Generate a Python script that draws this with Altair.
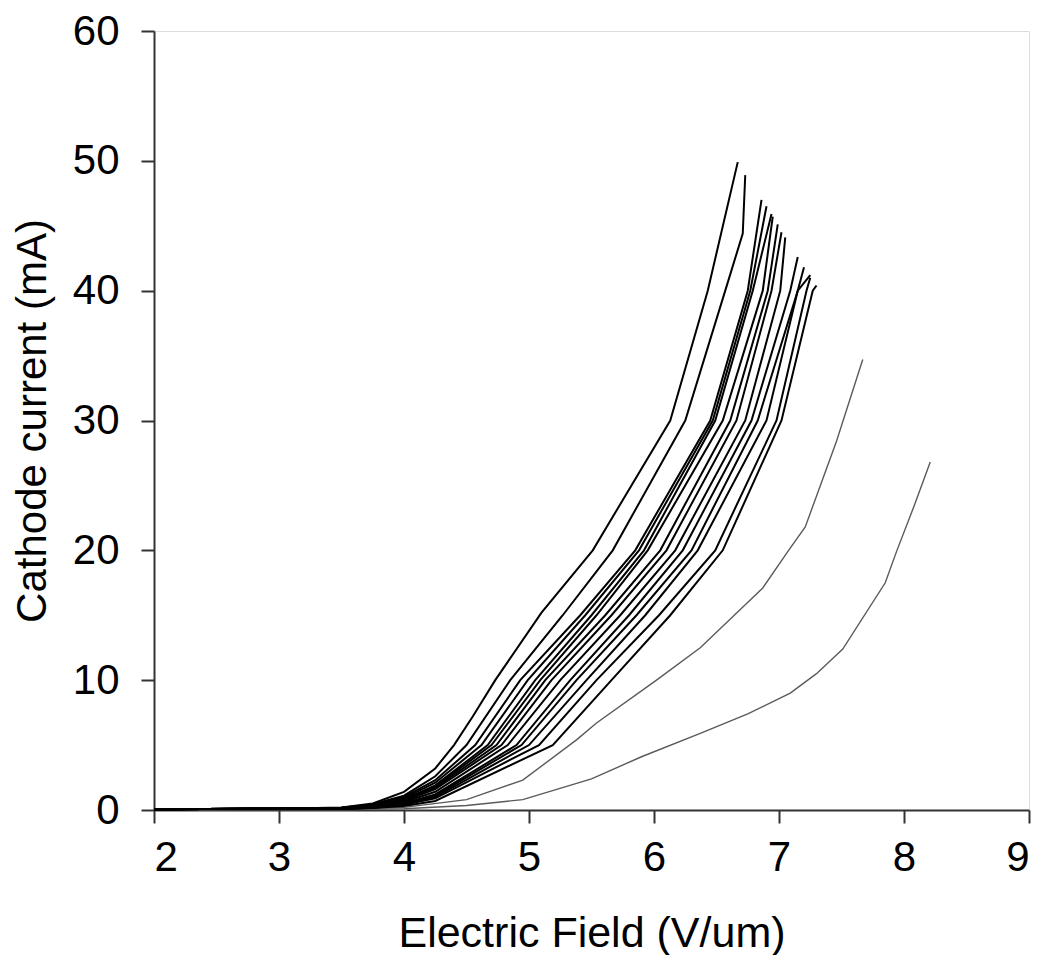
import altair as alt
import pandas as pd

# Black curves: (x, y) points
c01_x = [2.0, 3.0, 3.5, 3.75, 4.0, 4.25, 4.40, 4.55, 4.73, 5.10, 5.51, 6.13, 6.43, 6.67]
c01_y = [0.05, 0.1, 0.2, 0.5, 1.4, 3.2, 5.0, 7.2, 10.0, 15.2, 20.0, 30.0, 40.0, 49.9]
c02_x = [2.0, 3.0, 3.5, 3.75, 4.0, 4.25, 4.50, 4.85, 5.27, 5.67, 6.25, 6.57, 6.71, 6.73]
c02_y = [0.05, 0.1, 0.18, 0.45, 1.1, 2.6, 5.0, 10.0, 15.0, 20.0, 30.0, 40.0, 44.4, 48.9]
c03_x = [2.0, 3.0, 3.5, 3.75, 4.0, 4.25, 4.57, 4.93, 5.41, 5.85, 6.45, 6.75, 6.86]
c03_y = [0.05, 0.1, 0.17, 0.4, 1.0, 2.3, 5.0, 10.0, 15.0, 20.0, 30.0, 40.0, 47.0]
c04_x = [2.0, 3.0, 3.5, 3.75, 4.0, 4.25, 4.62, 4.99, 5.45, 5.88, 6.47, 6.77, 6.90]
c04_y = [0.05, 0.1, 0.16, 0.38, 0.9, 2.1, 5.0, 10.0, 15.0, 20.0, 30.0, 40.0, 46.5]
c05_x = [2.0, 3.0, 3.5, 3.75, 4.0, 4.25, 4.67, 5.05, 5.50, 5.92, 6.49, 6.79, 6.94]
c05_y = [0.05, 0.1, 0.15, 0.35, 0.8, 1.9, 5.0, 10.0, 15.0, 20.0, 30.0, 40.0, 45.9]
c06_x = [2.0, 3.0, 3.5, 3.75, 4.0, 4.25, 4.70, 5.09, 5.54, 5.95, 6.55, 6.87, 6.95]
c06_y = [0.05, 0.1, 0.15, 0.33, 0.8, 1.8, 5.0, 10.0, 15.0, 20.0, 30.0, 40.0, 45.7]
c07_x = [2.0, 3.0, 3.5, 3.75, 4.0, 4.25, 4.74, 5.13, 5.61, 6.05, 6.61, 6.91, 6.99]
c07_y = [0.05, 0.1, 0.14, 0.3, 0.7, 1.7, 5.0, 10.0, 15.0, 20.0, 30.0, 40.0, 45.1]
c08_x = [2.0, 3.0, 3.5, 3.75, 4.0, 4.25, 4.78, 5.18, 5.66, 6.10, 6.66, 6.94, 7.02]
c08_y = [0.05, 0.1, 0.13, 0.28, 0.7, 1.6, 5.0, 10.0, 15.0, 20.0, 30.0, 40.0, 44.5]
c09_x = [2.0, 3.0, 3.5, 3.75, 4.0, 4.25, 4.83, 5.25, 5.73, 6.17, 6.73, 7.01, 7.05]
c09_y = [0.05, 0.1, 0.12, 0.25, 0.6, 1.4, 5.0, 10.0, 15.0, 20.0, 30.0, 40.0, 44.1]
c10_x = [2.0, 3.0, 3.5, 3.75, 4.0, 4.25, 4.90, 5.33, 5.80, 6.23, 6.78, 7.09, 7.15]
c10_y = [0.05, 0.1, 0.11, 0.22, 0.5, 1.2, 5.0, 10.0, 15.0, 20.0, 30.0, 40.0, 42.6]
c11_x = [2.0, 3.0, 3.5, 3.75, 4.0, 4.25, 4.94, 5.38, 5.86, 6.30, 6.83, 7.15, 7.25]
c11_y = [0.05, 0.1, 0.1, 0.2, 0.5, 1.1, 5.0, 10.0, 15.0, 20.0, 30.0, 40.0, 41.2]
c12_x = [2.0, 3.0, 3.5, 3.75, 4.0, 4.25, 5.00, 5.46, 5.93, 6.35, 6.90, 7.15, 7.20]
c12_y = [0.05, 0.1, 0.1, 0.18, 0.4, 1.0, 5.0, 10.0, 15.0, 20.0, 30.0, 40.0, 41.8]
c13_x = [2.0, 3.0, 3.5, 3.75, 4.0, 4.25, 5.08, 5.54, 6.04, 6.49, 6.98, 7.22, 7.25]
c13_y = [0.05, 0.1, 0.09, 0.17, 0.4, 0.9, 5.0, 10.0, 15.0, 20.0, 30.0, 40.0, 41.0]
c14_x = [2.0, 3.0, 3.5, 3.75, 4.0, 4.25, 5.19, 5.66, 6.13, 6.55, 7.02, 7.27, 7.30]
c14_y = [0.05, 0.1, 0.08, 0.15, 0.3, 0.7, 5.0, 10.0, 15.0, 20.0, 30.0, 40.0, 40.4]

# Gray (thin) curves
g1_x = [2.0, 3.0, 3.5, 4.0, 4.5, 4.95, 5.38, 5.54, 6.02, 6.37, 6.87, 7.07, 7.21, 7.46, 7.67]
g1_y = [0.03, 0.05, 0.08, 0.2, 0.8, 2.3, 5.4, 6.7, 10.0, 12.5, 17.1, 19.9, 21.8, 28.4, 34.7]
g2_x = [2.0, 3.0, 3.5, 4.0, 4.5, 4.95, 5.5, 5.9, 6.37, 6.75, 7.09, 7.30, 7.51, 7.85, 7.94, 8.08, 8.21]
g2_y = [0.02, 0.03, 0.04, 0.1, 0.35, 0.8, 2.4, 4.1, 5.9, 7.4, 9.0, 10.5, 12.4, 17.5, 19.9, 23.4, 26.8]

black = [(c01_x, c01_y), (c02_x, c02_y), (c03_x, c03_y), (c04_x, c04_y), (c05_x, c05_y),
         (c06_x, c06_y), (c07_x, c07_y), (c08_x, c08_y), (c09_x, c09_y), (c10_x, c10_y),
         (c11_x, c11_y), (c12_x, c12_y), (c13_x, c13_y), (c14_x, c14_y)]
gray = [(g1_x, g1_y), (g2_x, g2_y)]

rows_b = []
for i, (xs, ys) in enumerate(black):
    for j, (x, y) in enumerate(zip(xs, ys)):
        rows_b.append({"series": f"b{i}", "x": x, "y": y, "o": j})
rows_g = []
for i, (xs, ys) in enumerate(gray):
    for j, (x, y) in enumerate(zip(xs, ys)):
        rows_g.append({"series": f"g{i}", "x": x, "y": y, "o": j})

font = "Liberation Sans"

xscale = alt.Scale(domain=[2, 9], nice=False, zero=False)
yscale = alt.Scale(domain=[0, 60], nice=False)

xaxis = alt.Axis(title="Electric Field (V/um)", values=list(range(2, 10)), format="d",
                 grid=False, tickSize=13, tickWidth=2, domainWidth=2, domainColor="#333333",
                 tickColor="#333333", labelFontSize=42, labelFont=font, labelColor="black",
                 labelPadding=14, titleFontSize=43, titleFont=font, titleFontWeight="normal",
                 titleColor="black", titlePadding=34)
yaxis = alt.Axis(title="Cathode current (mA)", values=list(range(0, 61, 10)), format="d",
                 grid=False, tickSize=13, tickWidth=2, domainWidth=2, domainColor="#333333",
                 tickColor="#333333", labelFontSize=42, labelFont=font, labelColor="black",
                 labelPadding=22, titleFontSize=42, titleFont=font, titleFontWeight="normal",
                 titleColor="black", titlePadding=18)

base_g = alt.Chart(pd.DataFrame(rows_g)).mark_line(color="#5a5a5a", strokeWidth=1.4).encode(
    x=alt.X("x:Q", scale=xscale, axis=xaxis),
    y=alt.Y("y:Q", scale=yscale, axis=yaxis),
    detail="series:N",
    order="o:Q",
)
base_b = alt.Chart(pd.DataFrame(rows_b)).mark_line(color="black", strokeWidth=2).encode(
    x=alt.X("x:Q", scale=xscale),
    y=alt.Y("y:Q", scale=yscale),
    detail="series:N",
    order="o:Q",
)

chart = alt.layer(base_g, base_b).properties(
    width=875, height=779,
    autosize=alt.AutoSizeParams(type="none"),
    padding={"left": 146, "top": 23, "right": 13, "bottom": 145},
).configure_view(stroke=None).configure(background="white")

chart.save("out.html", embed_options={"renderer": "svg", "actions": False})
